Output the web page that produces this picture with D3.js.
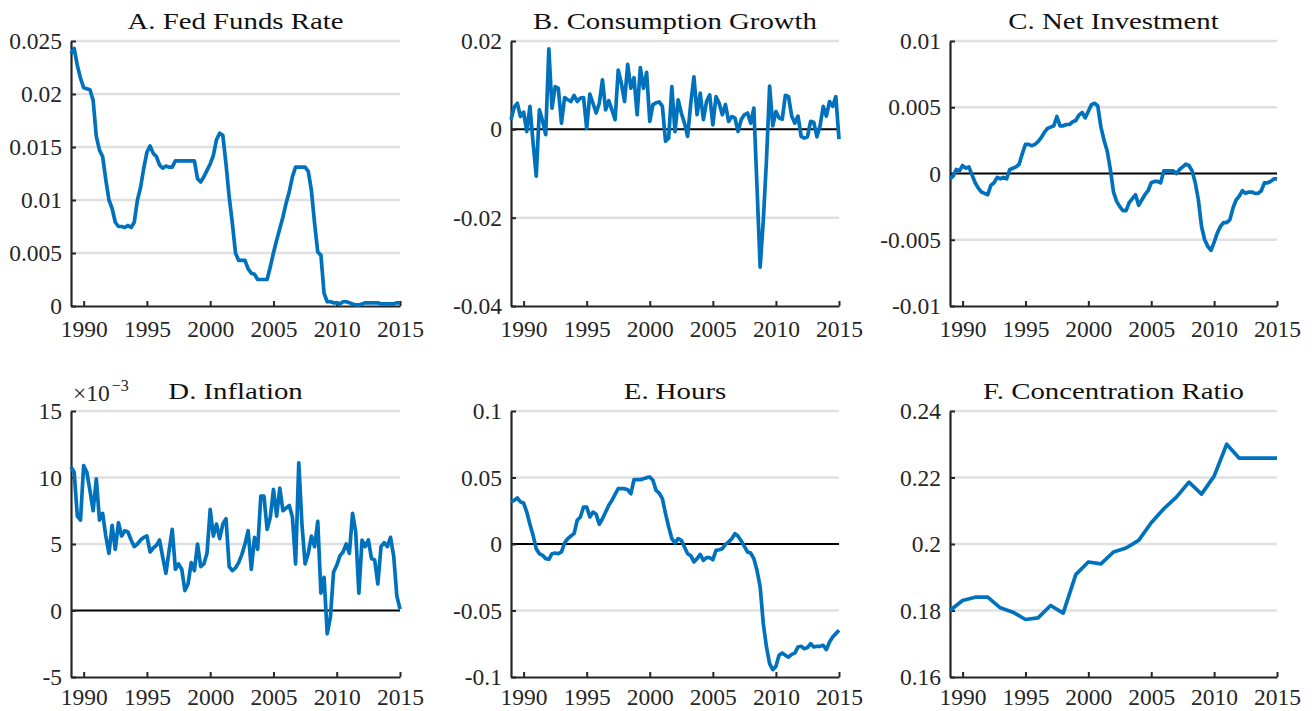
<!DOCTYPE html>
<html>
<head>
<meta charset="utf-8">
<script src="https://cdn.jsdelivr.net/npm/d3@7"></script>
<style>
  body { margin: 0; background: #fff; }
  svg { display: block; }
  text { font-family: "Liberation Serif", "Times New Roman", serif; }
</style>
</head>
<body>
<svg id="chart" width="1315" height="711"></svg>
<script>
// Quarterly observations 1989Q1 .. 2015Q1, annual observations 1989 .. 2015
const quarters = d3.range(105).map(i => 1989 + i / 4);
const years = d3.range(1989, 2016);

const xTicks = [1990, 1995, 2000, 2005, 2010, 2015];
const xTickLabels = ["1990", "1995", "2000", "2005", "2010", "2015"];

const fedFundsRate = [
  0.0238, 0.0243, 0.0227, 0.0215, 0.0206, 0.0205, 0.0204, 0.0194, 0.0160, 0.0147, 0.0141, 0.0119,
  0.0100, 0.0092, 0.0079, 0.0075, 0.0075, 0.0074, 0.0076, 0.0074, 0.0079, 0.0100, 0.0112, 0.0130,
  0.0145, 0.0151, 0.0144, 0.0141, 0.0133, 0.0130, 0.0132, 0.0131, 0.0131, 0.0137, 0.0137, 0.0137,
  0.0137, 0.0137, 0.0137, 0.0137, 0.0120, 0.0117, 0.0122, 0.0128, 0.0134, 0.0142, 0.0157, 0.0163,
  0.0161, 0.0134, 0.0103, 0.0078, 0.0050, 0.0043, 0.0043, 0.0043, 0.0035, 0.0031, 0.0030, 0.0025,
  0.0025, 0.0025, 0.0025, 0.0037, 0.0050, 0.0062, 0.0073, 0.0084, 0.0097, 0.0108, 0.0122, 0.0131,
  0.0131, 0.0131, 0.0131, 0.0127, 0.0109, 0.0078, 0.0051, 0.0048, 0.0012, 0.0004, 0.0004, 0.0003,
  0.0003, 0.0002, 0.0004, 0.0004, 0.0003, 0.0002, 0.0001, 0.0001, 0.0002, 0.0003, 0.0003, 0.0003,
  0.0003, 0.0003, 0.0002, 0.0002, 0.0002, 0.0002, 0.0002, 0.0003, 0.0003
];

const consumptionGrowth = [
  0.0022, 0.0050, 0.0059, 0.0029, 0.0039, -0.0005, 0.0052, -0.0030, -0.0106, 0.0044, 0.0020, -0.0012,
  0.0182, 0.0048, 0.0097, 0.0093, 0.0014, 0.0072, 0.0067, 0.0063, 0.0077, 0.0063, 0.0071, 0.0072,
  0.0002, 0.0080, 0.0059, 0.0037, 0.0059, 0.0112, 0.0044, 0.0065, 0.0044, 0.0022, 0.0134, 0.0104,
  0.0063, 0.0147, 0.0093, 0.0117, 0.0033, 0.0140, 0.0093, 0.0129, 0.0018, 0.0056, 0.0060, 0.0062,
  0.0052, -0.0027, -0.0020, 0.0097, -0.0005, 0.0067, 0.0037, 0.0014, -0.0016, 0.0059, 0.0119, 0.0033,
  0.0082, 0.0022, 0.0063, 0.0078, 0.0010, 0.0074, 0.0059, 0.0033, 0.0056, 0.0018, 0.0029, 0.0026,
  -0.0005, 0.0022, 0.0033, 0.0037, 0.0014, 0.0048, -0.0130, -0.0312, -0.0206, -0.0070, 0.0098, 0.0008,
  0.0040, 0.0026, 0.0023, 0.0077, 0.0074, 0.0030, 0.0014, 0.0030, -0.0016, -0.0020, -0.0017, 0.0018,
  0.0016, -0.0017, 0.0008, 0.0052, 0.0030, 0.0063, 0.0052, 0.0074, -0.0022
];

const netInvestment = [
  -0.0004, -0.0002, 0.0003, 0.0002, 0.0006, 0.0004, 0.0005, -0.0001, -0.0007, -0.0011, -0.0014, -0.0015,
  -0.0016, -0.0009, -0.0007, -0.0003, -0.0004, -0.0003, -0.0004, 0.0003, 0.0004, 0.0005, 0.0007, 0.0015,
  0.0022, 0.0022, 0.0021, 0.0022, 0.0024, 0.0027, 0.0031, 0.0034, 0.0035, 0.0036, 0.0043, 0.0036,
  0.0036, 0.0037, 0.0037, 0.0039, 0.0040, 0.0044, 0.0046, 0.0042, 0.0047, 0.0052, 0.0053, 0.0051,
  0.0035, 0.0025, 0.0017, 0.0003, -0.0014, -0.0021, -0.0025, -0.0028, -0.0028, -0.0022, -0.0019, -0.0016,
  -0.0024, -0.0020, -0.0016, -0.0013, -0.0007, -0.0006, -0.0006, -0.0007, 0.0002, 0.0002, 0.0002, 0.0002,
  0.0000, 0.0003, 0.0005, 0.0007, 0.0006, 0.0002, -0.0007, -0.0020, -0.0040, -0.0050, -0.0055, -0.0058,
  -0.0052, -0.0045, -0.0040, -0.0037, -0.0037, -0.0035, -0.0026, -0.0020, -0.0017, -0.0013, -0.0015, -0.0014,
  -0.0014, -0.0015, -0.0015, -0.0013, -0.0007, -0.0007, -0.0006, -0.0004, -0.0004
];

// inflation in units of 10^-3
const inflation = [
  10.8, 10.4, 7.1, 6.8, 10.9, 10.4, 9.0, 7.5, 9.9, 6.8, 7.3, 5.6,
  4.3, 6.4, 4.6, 6.6, 5.6, 6.0, 5.9, 5.3, 4.8, 5.0, 5.3, 5.5,
  5.6, 4.4, 4.7, 4.9, 5.3, 4.0, 2.8, 4.5, 6.1, 3.1, 3.5, 3.1,
  1.5, 2.0, 3.6, 3.0, 5.0, 3.3, 3.5, 4.3, 7.6, 5.6, 6.5, 5.4,
  6.5, 6.9, 3.3, 3.0, 3.2, 3.6, 4.2, 5.0, 6.0, 3.1, 5.5, 4.6,
  8.6, 8.6, 6.1, 7.0, 9.1, 7.1, 9.2, 7.5, 7.7, 7.9, 7.0, 3.5,
  11.1, 6.5, 3.5, 4.3, 5.6, 4.8, 6.7, 1.3, 2.5, -1.75, -0.5, 2.9,
  3.4, 4.1, 4.4, 5.0, 4.3, 7.3, 5.9, 1.3, 5.3, 4.8, 5.3, 3.9,
  3.8, 2.0, 4.8, 5.1, 4.8, 5.5, 4.1, 1.1, 0.1
];

const hours = [
  0.0316, 0.0328, 0.0346, 0.0316, 0.0308, 0.0240, 0.0148, 0.0065, -0.0035, -0.0073, -0.0085, -0.0110,
  -0.0115, -0.0073, -0.0068, -0.0073, -0.0060, 0.0008, 0.0040, 0.0060, 0.0078, 0.0178, 0.0203, 0.0278,
  0.0278, 0.0203, 0.0240, 0.0223, 0.0148, 0.0190, 0.0240, 0.0291, 0.0328, 0.0373, 0.0416, 0.0416,
  0.0416, 0.0408, 0.0378, 0.0484, 0.0484, 0.0484, 0.0491, 0.0499, 0.0504, 0.0479, 0.0403, 0.0383,
  0.0341, 0.0228, 0.0128, 0.0040, 0.0008, 0.0040, 0.0028, -0.0023, -0.0073, -0.0088, -0.0135, -0.0110,
  -0.0078, -0.0123, -0.0103, -0.0103, -0.0118, -0.0048, -0.0043, -0.0035, -0.0003, 0.0015, 0.0040, 0.0078,
  0.0058, 0.0023, -0.0018, -0.0060, -0.0068, -0.0110, -0.0198, -0.0323, -0.0599, -0.0774, -0.0900, -0.0945,
  -0.0920, -0.0837, -0.0820, -0.0837, -0.0850, -0.0830, -0.0820, -0.0774, -0.0769, -0.0787, -0.0779, -0.0749,
  -0.0774, -0.0769, -0.0769, -0.0762, -0.0794, -0.0737, -0.0699, -0.0674, -0.0649
];

const concentrationRatio = [
  0.1800, 0.1830, 0.1840, 0.1840, 0.1808, 0.1795, 0.1773, 0.1778, 0.1815, 0.1792,
  0.1908, 0.1946, 0.1940, 0.1976, 0.1988, 0.2011, 0.2064, 0.2106, 0.2141, 0.2186,
  0.2150, 0.2204, 0.2300, 0.2258, 0.2258, 0.2258, 0.2258
];

const yTicksA = [0, 0.005, 0.01, 0.015, 0.02, 0.025];
const yLabelsA = ["0", "0.005", "0.01", "0.015", "0.02", "0.025"];
const yTicksB = [-0.04, -0.02, 0, 0.02];
const yLabelsB = ["-0.04", "-0.02", "0", "0.02"];
const yTicksC = [-0.01, -0.005, 0, 0.005, 0.01];
const yLabelsC = ["-0.01", "-0.005", "0", "0.005", "0.01"];
const yTicksD = [-5, 0, 5, 10, 15];
const yLabelsD = ["-5", "0", "5", "10", "15"];
const yTicksE = [-0.1, -0.05, 0, 0.05, 0.1];
const yLabelsE = ["-0.1", "-0.05", "0", "0.05", "0.1"];
const yTicksF = [0.16, 0.18, 0.2, 0.22, 0.24];
const yLabelsF = ["0.16", "0.18", "0.2", "0.22", "0.24"];

const panels = [
  { title: "A. Fed Funds Rate", t: quarters, v: fedFundsRate, domain: [0, 0.025], ticks: yTicksA, labels: yLabelsA, col: 0, row: 0 },
  { title: "B. Consumption Growth", t: quarters, v: consumptionGrowth, domain: [-0.04, 0.02], ticks: yTicksB, labels: yLabelsB, col: 1, row: 0 },
  { title: "C. Net Investment", t: quarters, v: netInvestment, domain: [-0.01, 0.01], ticks: yTicksC, labels: yLabelsC, col: 2, row: 0 },
  { title: "D. Inflation", t: quarters, v: inflation, domain: [-5, 15], ticks: yTicksD, labels: yLabelsD, col: 0, row: 1, exponent: "−3" },
  { title: "E. Hours", t: quarters, v: hours, domain: [-0.1, 0.1], ticks: yTicksE, labels: yLabelsE, col: 1, row: 1 },
  { title: "F. Concentration Ratio", t: years, v: concentrationRatio, domain: [0.16, 0.24], ticks: yTicksF, labels: yLabelsF, col: 2, row: 1 }
];

// plot-area geometry
const cols = [[71, 400], [511, 839], [950, 1277]];
const rows = [[41, 306], [411, 677]];
const xLabelPad = [14, 11];
const FONT = 23.5;
const TITLE_FONT = 24;
const lineColor = "#0072bd";
const axisColor = "#262626";

const svg = d3.select("#chart");

panels.forEach(p => {
  const [x0, x1] = cols[p.col];
  const [y0, y1] = rows[p.row];
  const x = d3.scaleLinear().domain([1989, 2015]).range([x0, x1]);
  const y = d3.scaleLinear().domain(p.domain).range([y1, y0]);
  const g = svg.append("g");

  // horizontal grid
  g.append("g").selectAll("line")
    .data(p.ticks.filter(v => v !== p.domain[0] && v !== 0))
    .join("line")
    .attr("x1", x0).attr("x2", x1)
    .attr("y1", d => y(d)).attr("y2", d => y(d))
    .attr("stroke", "#e0e0e0").attr("stroke-width", 2.5);

  // zero reference line
  if (p.domain[0] < 0 && p.domain[1] > 0) {
    g.append("line")
      .attr("x1", x0).attr("x2", x1)
      .attr("y1", y(0)).attr("y2", y(0))
      .attr("stroke", "#000").attr("stroke-width", 2);
  }

  // axes
  const yAxis = d3.axisLeft(y).tickValues(p.ticks)
    .tickFormat((d, i) => p.labels[i])
    .tickSizeInner(-5).tickSizeOuter(0).tickPadding(9);
  const xAxis = d3.axisBottom(x).tickValues(xTicks)
    .tickFormat((d, i) => xTickLabels[i])
    .tickSizeInner(-5).tickSizeOuter(0).tickPadding(xLabelPad[p.row]);

  const ga = g.append("g").attr("transform", `translate(${x0},0)`).call(yAxis);
  const gb = g.append("g").attr("transform", `translate(0,${y1})`).call(xAxis);
  [ga, gb].forEach(a => {
    a.attr("font-family", null).attr("font-size", null);
    a.select(".domain").attr("stroke", axisColor).attr("stroke-width", 2.2);
    a.selectAll(".tick line").attr("stroke", axisColor).attr("stroke-width", 2);
    a.selectAll(".tick text").attr("fill", "#262626").style("font-size", FONT + "px")
      .style("font-family", '"Liberation Serif", "Times New Roman", serif');
  });

  // series line
  const line = d3.line().x((d, i) => x(p.t[i])).y(d => y(d));
  g.append("path").datum(p.v)
    .attr("d", line)
    .attr("fill", "none")
    .attr("stroke", lineColor)
    .attr("stroke-width", 3.7)
    .attr("stroke-linejoin", "round");

  // title
  g.append("text")
    .attr("transform", `translate(${(x0 + x1) / 2},${y0 - 12.5}) scale(1.2,1)`)
    .attr("text-anchor", "middle")
    .attr("fill", "#111")
    .style("font-size", TITLE_FONT + "px")
    .text(p.title);

  // exponent multiplier
  if (p.exponent) {
    const t = g.append("text")
      .attr("x", x0 + 2).attr("y", y0 - 10)
      .attr("fill", "#262626")
      .style("font-size", FONT + "px");
    t.append("tspan").text("×10");
    t.append("tspan").attr("dy", -10).attr("dx", 2).style("font-size", "16px").text(p.exponent);
  }
});
</script>
</body>
</html>
